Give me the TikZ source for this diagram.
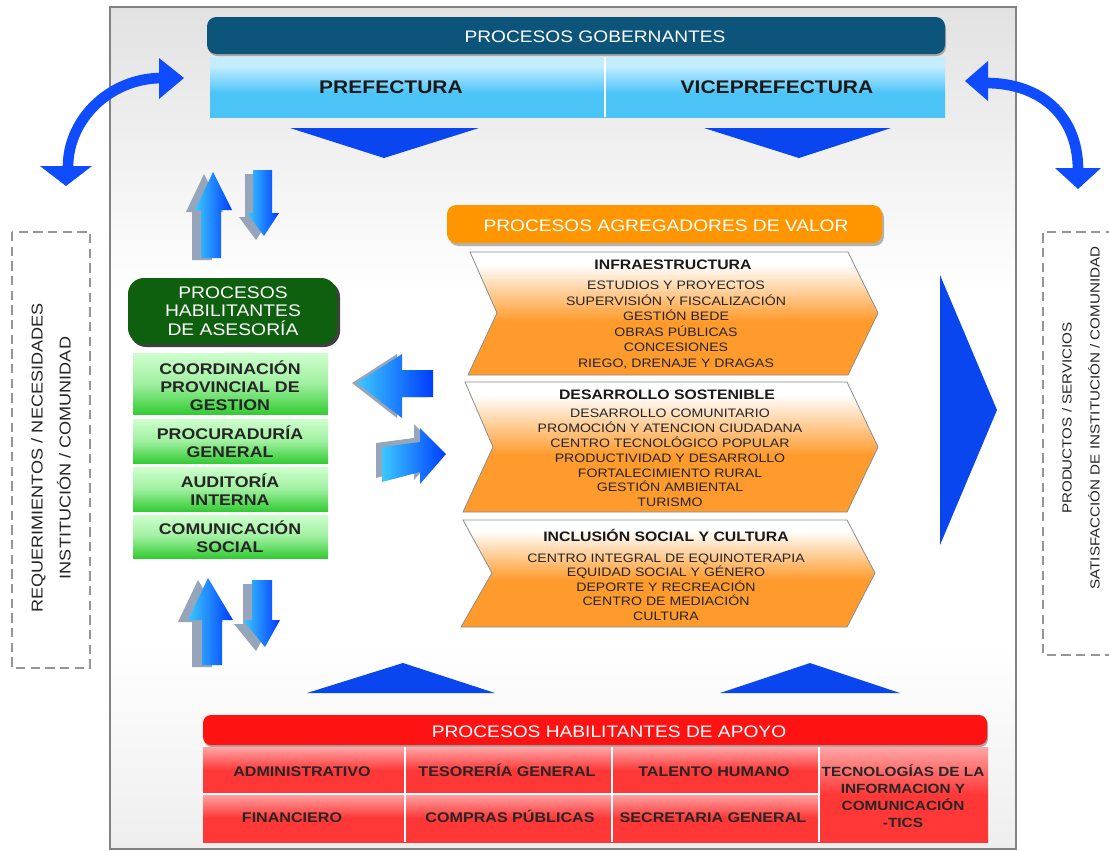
\documentclass[tikz,border=0pt]{standalone}
\usepackage{fontspec}
\setmainfont{Liberation Sans}
\newfontfamily\sw[FakeStretch=1.15]{Liberation Sans}
\definecolor{teal1}{RGB}{12,84,122}
\definecolor{bluetop}{RGB}{196,238,255}
\definecolor{bluebot}{RGB}{76,196,248}
\definecolor{orangeH}{RGB}{255,150,0}
\definecolor{orangeC}{RGB}{255,155,45}
\definecolor{greenD}{RGB}{14,96,14}
\definecolor{greenTop}{RGB}{206,255,206}
\definecolor{greenBot}{RGB}{52,204,52}
\definecolor{redH}{RGB}{255,18,18}
\definecolor{redTop}{RGB}{255,165,165}
\definecolor{redBot}{RGB}{255,55,55}
\definecolor{arrL}{RGB}{60,200,255}
\definecolor{arrR}{RGB}{0,60,255}
\definecolor{arrG}{RGB}{150,165,185}
\definecolor{triB}{RGB}{10,70,240}
\definecolor{curveB}{RGB}{15,75,255}
\definecolor{dashG}{RGB}{150,150,150}
\definecolor{frameG}{RGB}{130,130,130}
\definecolor{bgtop}{RGB}{226,226,226}
\definecolor{bgbot}{RGB}{238,238,238}
\pgfdeclareverticalshading{framebg}{100bp}{color(0bp)=(bgbot); color(25bp)=(bgbot); color(37bp)=(white); color(58bp)=(white); color(75bp)=(bgtop); color(100bp)=(bgtop)}
\pgfdeclareverticalshading{bluebox}{100bp}{color(0bp)=(bluebot); color(25bp)=(bluebot); color(45bp)=(bluebot); color(68bp)=(bluetop); color(100bp)=(bluetop)}
\pgfdeclareverticalshading{chev}{100bp}{color(0bp)=(orangeC); color(25bp)=(orangeC); color(47bp)=(orangeC); color(70bp)=(white); color(100bp)=(white)}
\pgfdeclareverticalshading{greenbox}{100bp}{color(0bp)=(greenBot); color(25bp)=(greenBot); color(50bp)=(greenTop!70!greenBot); color(75bp)=(greenTop); color(100bp)=(greenTop)}
\pgfdeclareverticalshading{redbox}{100bp}{color(0bp)=(redBot); color(25bp)=(redBot); color(50bp)=(redBot); color(75bp)=(redTop); color(100bp)=(redTop)}
\tikzset{
  hdr/.style={text=white, font=\sw\fontsize{12.5}{15}\selectfont, inner sep=0pt},
  bigt/.style={font=\sw\fontsize{13.7}{16}\selectfont\bfseries, text=black!90, inner sep=0pt},
  ctitle/.style={font=\sw\fontsize{10.3}{12}\selectfont\bfseries, text=black!90, inner sep=0pt},
  citem/.style={font=\sw\fontsize{9.2}{11.2}\selectfont, text=black!85, align=center, inner sep=0pt},
  gtxt/.style={font=\sw\fontsize{11.6}{13.5}\selectfont\bfseries, align=center, text=black!85, inner sep=0pt},
  ghdr/.style={font=\sw\fontsize{12.6}{13.9}\selectfont, align=center, text=white, inner sep=0pt},
  rtxt/.style={font=\sw\fontsize{10.5}{12.75}\selectfont\bfseries, align=center, text=black!85, inner sep=0pt},
  rone/.style={rtxt, text height=7.6pt, text depth=0pt, anchor=center},
  sidebox/.style={draw=dashG, line width=1.1pt, dash pattern=on 7pt off 4pt},
  sidetxt/.style={rotate=90, align=center, text=black!85, inner sep=0pt},
  barrow/.style={left color=arrL, right color=arrR},
  garrow/.style={fill=arrG},
  tri/.style={fill=triB},
  curvearr/.style={draw=curveB, line width=8pt},
  chevbox/.style={shading=chev, draw=black!45, line width=0.6pt},
}
\begin{document}
\begin{tikzpicture}[x=0.75pt, y=-0.75pt]
\useasboundingbox (0,0) rectangle (1109,850);
\fill[white] (0,0) rectangle (1109,850);
% main frame
\shadedraw[shading=framebg, draw=frameG, line width=0.8pt] (110,7) rectangle (1016,849);

% side boxes
\draw[sidebox] (12,232) rectangle (90,668);
\node[sidetxt, font=\sw\fontsize{11.8}{21}\selectfont] (req) at (51,458) {REQUERIMIENTOS / NECESIDADES\\INSTITUCIÓN / COMUNIDAD};
\draw[sidebox] (1115,232) -- (1043,232) -- (1043,655) -- (1115,655);
\node[sidetxt, font=\sw\fontsize{9.9}{21}\selectfont] (prod) at (1081,418) {PRODUCTOS / SERVICIOS\\SATISFACCIÓN DE INSTITUCIÓN / COMUNIDAD};

% curved arrows
\draw[curvearr] (68,167) .. controls (68,119) and (110,78) .. (162,78);
\fill[curveB] (40,166) -- (92,166) -- (66,186) -- cycle;
\fill[curveB] (159,58) -- (184,78) -- (159,99) -- cycle;
\draw[curvearr] (986,83) .. controls (1040,83) and (1078,115) .. (1078,170);
\fill[curveB] (988,61) -- (965,81) -- (988,101) -- cycle;
\fill[curveB] (1055,168) -- (1101,168) -- (1078,189) -- cycle;

% governing processes
\fill[black!35, rounded corners=7] (208,19) rectangle (946,56);
\fill[teal1, rounded corners=7] (207,17) rectangle (945,54);
\node[hdr] (gob) at (595,37) {PROCESOS GOBERNANTES};
\shade[shading=bluebox] (210,57) rectangle (945,117);
\draw[white, line width=1pt] (605,57) -- (605,117);
\node[bigt] (pref) at (391,87) {PREFECTURA};
\node[bigt] (vice) at (777,87) {VICEPREFECTURA};
\fill[tri] (290,128) -- (479,128) -- (384,158) -- cycle;
\fill[tri] (704,128) -- (891,128) -- (799,158) -- cycle;

% vertical arrow pairs (top)
\begin{scope}[shift={(-9,2)}]
\fill[garrow] (213,172) -- (232,210) -- (221,210) -- (221,258) -- (201,258) -- (201,210) -- (195,210) -- cycle;
\end{scope}
\shade[barrow] (213,172) -- (232,210) -- (221,210) -- (221,258) -- (201,258) -- (201,210) -- (195,210) -- cycle;
\begin{scope}[shift={(-8,4)}]
\fill[garrow] (253,170) -- (272,170) -- (272,213) -- (279,213) -- (264,236) -- (247,213) -- (253,213) -- cycle;
\end{scope}
\shade[barrow] (253,170) -- (272,170) -- (272,213) -- (279,213) -- (264,236) -- (247,213) -- (253,213) -- cycle;
% vertical arrow pairs (bottom)
\begin{scope}[shift={(-10,2)}]
\fill[garrow] (208,578) -- (233,620) -- (222,620) -- (222,665) -- (202,665) -- (202,620) -- (188,620) -- cycle;
\end{scope}
\shade[barrow] (208,578) -- (233,620) -- (222,620) -- (222,665) -- (202,665) -- (202,620) -- (188,620) -- cycle;
\begin{scope}[shift={(-9,4)}]
\fill[garrow] (252,580) -- (272,580) -- (272,620) -- (280,620) -- (265,647) -- (243,620) -- (252,620) -- cycle;
\end{scope}
\shade[barrow] (252,580) -- (272,580) -- (272,620) -- (280,620) -- (265,647) -- (243,620) -- (252,620) -- cycle;

% horizontal arrows
\begin{scope}[shift={(-5,0)}]
\fill[garrow] (357,383) -- (402,354) -- (402,370) -- (433,370) -- (433,397) -- (402,397) -- (402,418) -- cycle;
\end{scope}
\shade[barrow] (357,383) -- (402,354) -- (402,370) -- (433,370) -- (433,397) -- (402,397) -- (402,418) -- cycle;
\begin{scope}[shift={(-6,-4)}]
\fill[garrow] (446,454) -- (420,428) -- (420,442) -- (382,447) -- (382,482) -- (420,472) -- (420,484) -- cycle;
\end{scope}
\shade[barrow] (446,454) -- (420,428) -- (420,442) -- (382,447) -- (382,482) -- (420,472) -- (420,484) -- cycle;

% advisory processes (green)
\fill[black!75, rounded corners=12] (130,281) rectangle (340,347);
\fill[greenD, rounded corners=12] (128,278) rectangle (337,344);
\node[ghdr] (ase) at (233,311) {PROCESOS\\HABILITANTES\\DE ASESORÍA};
\shade[shading=greenbox] (133,353) rectangle (328,414);
\shade[shading=greenbox] (133,419) rectangle (328,463);
\shade[shading=greenbox] (133,467) rectangle (328,511);
\shade[shading=greenbox] (133,515) rectangle (328,558);
\node[gtxt] (coord) at (230,386) {COORDINACIÓN\\PROVINCIAL DE\\GESTION};
\node[gtxt] (procu) at (230,442) {PROCURADURÍA\\GENERAL};
\node[gtxt] (audit) at (230,490) {AUDITORÍA\\INTERNA};
\node[gtxt] (comun) at (230,537) {COMUNICACIÓN\\SOCIAL};

% value-adding processes (orange)
\fill[black!30, rounded corners=7] (449,208) rectangle (884,246);
\fill[orangeH, rounded corners=7] (447,205) rectangle (882,243);
\node[hdr] (agr) at (666,226) {PROCESOS AGREGADORES DE VALOR};

\shadedraw[chevbox] (470,252) -- (848,252) -- (878,313) -- (848,375) -- (468,375) -- (497,313) -- cycle;
\node[ctitle] (infra) at (673,265) {INFRAESTRUCTURA};
\node[citem, font=\sw\fontsize{9.2}{11.7}\selectfont] (infrai) at (676,325) {ESTUDIOS Y PROYECTOS\\SUPERVISIÓN Y FISCALIZACIÓN\\GESTIÓN BEDE\\OBRAS PÚBLICAS\\CONCESIONES\\RIEGO, DRENAJE Y DRAGAS};

\shadedraw[chevbox] (465,382) -- (847,382) -- (878,447) -- (847,512) -- (463,512) -- (493,447) -- cycle;
\node[ctitle] (desa) at (667,395) {DESARROLLO SOSTENIBLE};
\node[citem, font=\sw\fontsize{9.2}{11.1}\selectfont] (desai) at (670,458) {DESARROLLO COMUNITARIO\\PROMOCIÓN Y ATENCION CIUDADANA\\CENTRO TECNOLÓGICO POPULAR\\PRODUCTIVIDAD Y DESARROLLO\\FORTALECIMIENTO RURAL\\GESTIÓN AMBIENTAL\\TURISMO};

\shadedraw[chevbox] (463,520) -- (847,520) -- (875,573) -- (847,627) -- (461,627) -- (492,573) -- cycle;
\node[ctitle] (incl) at (666,535) {INCLUSIÓN SOCIAL Y CULTURA};
\node[citem, font=\sw\fontsize{9.2}{10.9}\selectfont] (incli) at (666,587) {CENTRO INTEGRAL DE EQUINOTERAPIA\\EQUIDAD SOCIAL Y GÉNERO\\DEPORTE Y RECREACIÓN\\CENTRO DE MEDIACIÓN\\CULTURA};

% big right triangle and bottom triangles
\fill[tri] (940,275) -- (997,410) -- (940,545) -- cycle;
\fill[tri] (307,693) -- (403,663) -- (495,693) -- cycle;
\fill[tri] (720,693) -- (810,663) -- (900,693) -- cycle;

% support processes (red)
\fill[black!35, rounded corners=6] (204,717) rectangle (988,747);
\fill[redH, rounded corners=6] (203,715) rectangle (987,745);
\node[hdr] (apo) at (609,732) {PROCESOS HABILITANTES DE APOYO};
\shade[shading=redbox] (203,747) rectangle (405,794);
\shade[shading=redbox] (405,747) rectangle (612,794);
\shade[shading=redbox] (612,747) rectangle (819,794);
\shade[shading=redbox] (203,794) rectangle (405,842);
\shade[shading=redbox] (405,794) rectangle (612,842);
\shade[shading=redbox] (612,794) rectangle (819,842);
\shade[shading=redbox] (819,747) rectangle (988,842);
\draw[white, line width=1pt] (405,747) -- (405,842) (612,747) -- (612,842) (819,747) -- (819,842) (203,794) -- (819,794);
\node[rone] (adm) at (302,771) {ADMINISTRATIVO};
\node[rone] (tes) at (507,771) {TESORERÍA GENERAL};
\node[rone] (tal) at (714,771) {TALENTO HUMANO};
\node[rone] (fin) at (292,817) {FINANCIERO};
\node[rone] (com) at (510,817) {COMPRAS PÚBLICAS};
\node[rone] (sec) at (713,817) {SECRETARIA GENERAL};
\node[rtxt, font=\sw\fontsize{10}{12.75}\selectfont\bfseries] (tic) at (903,796) {TECNOLOGÍAS DE LA\\INFORMACION Y\\COMUNICACIÓN\\-TICS};
\end{tikzpicture}
\end{document}
